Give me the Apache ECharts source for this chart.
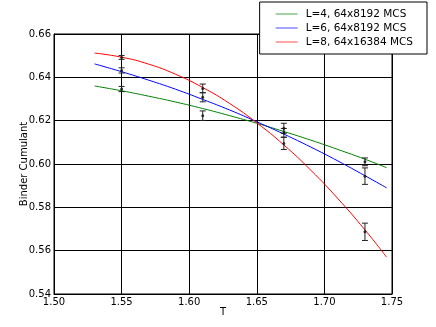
<!DOCTYPE html>
<html>
<head>
<meta charset="utf-8">
<script src="https://cdn.jsdelivr.net/npm/echarts@6/dist/echarts.min.js"></script>
<style>
  html, body { margin: 0; padding: 0; background: #fff; }
  #chart { width: 436px; height: 327px; }
</style>
</head>
<body>
<div id="chart"></div>
<script>
// fitted curves
const curveT = [1.53, 1.55, 1.57, 1.59, 1.61, 1.63, 1.65, 1.67, 1.69, 1.71, 1.73, 1.746];
const fitL4 = [0.6360, 0.6338, 0.6313, 0.6286, 0.6256, 0.6223, 0.6188, 0.6150, 0.6110, 0.6067, 0.6022, 0.5983];
const fitL6 = [0.6462, 0.6426, 0.6387, 0.6345, 0.6298, 0.6249, 0.6195, 0.6138, 0.6078, 0.6014, 0.5946, 0.5890];
const fitL8 = [0.6512, 0.6493, 0.6461, 0.6414, 0.6353, 0.6279, 0.6190, 0.6088, 0.5971, 0.5840, 0.5696, 0.5570];

// measured points with error bars
const pointT = [1.55, 1.61, 1.67, 1.73];
const valL4 = [0.6346, 0.6223, 0.6165, 0.6010];
const errL4 = [0.0012, 0.0022, 0.0023, 0.0018];
const valL6 = [0.6432, 0.6308, 0.6144, 0.5944];
const errL6 = [0.0012, 0.0021, 0.0020, 0.0038];
const valL8 = [0.6492, 0.6349, 0.6095, 0.5687];
const errL8 = [0.0009, 0.0020, 0.0028, 0.0040];

const names = ["L=4, 64x8192 MCS", "L=6, 64x8192 MCS", "L=8, 64x16384 MCS"];
const colors = ["#008000", "#0000ff", "#ff0000"];

let myChart = echarts.init(document.getElementById("chart"));

function curve(vals) {
  return curveT.map((t, i) => [t, vals[i]]);
}
function points(vals, errs) {
  return pointT.map((t, i) => [t, vals[i], errs[i]]);
}

// error bar: vertical line plus caps
function errorBar(params, api) {
  let x = api.value(0), y = api.value(1), e = api.value(2);
  let top = api.coord([x, y + e]);
  let bot = api.coord([x, y - e]);
  let st = { stroke: "#222", lineWidth: 1 };
  return {
    type: "group",
    children: [
      { type: "line", shape: { x1: top[0], y1: top[1], x2: bot[0], y2: bot[1] }, style: st },
      { type: "line", shape: { x1: top[0] - 3, y1: top[1], x2: top[0] + 3, y2: top[1] }, style: st },
      { type: "line", shape: { x1: bot[0] - 3, y1: bot[1], x2: bot[0] + 3, y2: bot[1] }, style: st },
    ],
  };
}

let series = [];
[fitL4, fitL6, fitL8].forEach((f, i) => {
  series.push({
    name: names[i],
    type: "line",
    data: curve(f),
    smooth: true,
    symbol: "none",
    color: colors[i],
    lineStyle: { color: colors[i], width: 1 },
    itemStyle: { color: colors[i] },
    silent: true,
    z: 3,
  });
});
[[valL4, errL4], [valL6, errL6], [valL8, errL8]].forEach((p, i) => {
  series.push({
    type: "custom",
    renderItem: errorBar,
    data: points(p[0], p[1]),
    encode: { x: 0, y: 1 },
    z: 4,
  });
  series.push({
    type: "scatter",
    data: points(p[0], p[1]),
    symbol: "circle",
    symbolSize: 3,
    itemStyle: { color: "#111" },
    z: 5,
  });
});

myChart.setOption({
  animation: false,
  textStyle: { fontFamily: "DejaVu Sans" },
  grid: {
    left: 54,
    right: 44,
    top: 34,
    bottom: 33,
    show: true,
    borderColor: "#000",
    borderWidth: 1,
  },
  legend: {
    data: names.map((n, i) => ({
      name: n,
      icon: "path://M0,0 L22,0 L22,1 L0,1 Z",
      itemStyle: { color: colors[i], opacity: 0.7 },
    })),
    orient: "vertical",
    right: 9,
    top: 2,
    backgroundColor: "#fff",
    borderColor: "#000",
    borderWidth: 1,
    borderRadius: 0,
    padding: [6, 14, 6, 16],
    itemGap: 2,
    itemWidth: 22,
    itemHeight: 1.5,
    textStyle: { fontSize: 10.5, color: "#000", fontFamily: "DejaVu Sans", padding: [0, 0, 0, 3], lineHeight: 12 },
  },
  xAxis: {
    type: "value",
    min: 1.5,
    max: 1.75,
    interval: 0.05,
    name: "T",
    nameLocation: "middle",
    nameGap: 13,
    nameMoveOverlap: false,
    nameTextStyle: { fontSize: 10, color: "#000" },
    axisLine: { show: true, lineStyle: { color: "#000" } },
    axisTick: { show: true, inside: true, length: 4, lineStyle: { color: "#000" } },
    axisLabel: { fontSize: 10, color: "#000", margin: 3, formatter: (v) => v.toFixed(2) },
    splitLine: { show: true, lineStyle: { color: "#000", width: 1 } },
  },
  yAxis: {
    type: "value",
    min: 0.54,
    max: 0.66,
    interval: 0.02,
    name: "Binder Cumulant",
    nameLocation: "middle",
    nameGap: 25,
    nameMoveOverlap: false,
    nameTextStyle: { fontSize: 10, color: "#000" },
    axisLine: { show: true, lineStyle: { color: "#000" } },
    axisTick: { show: true, inside: true, length: 4, lineStyle: { color: "#000" } },
    axisLabel: { fontSize: 10, color: "#000", margin: 3, formatter: (v) => v.toFixed(2) },
    splitLine: { show: true, lineStyle: { color: "#000", width: 1 } },
  },
  series: series,
});
</script>
</body>
</html>
